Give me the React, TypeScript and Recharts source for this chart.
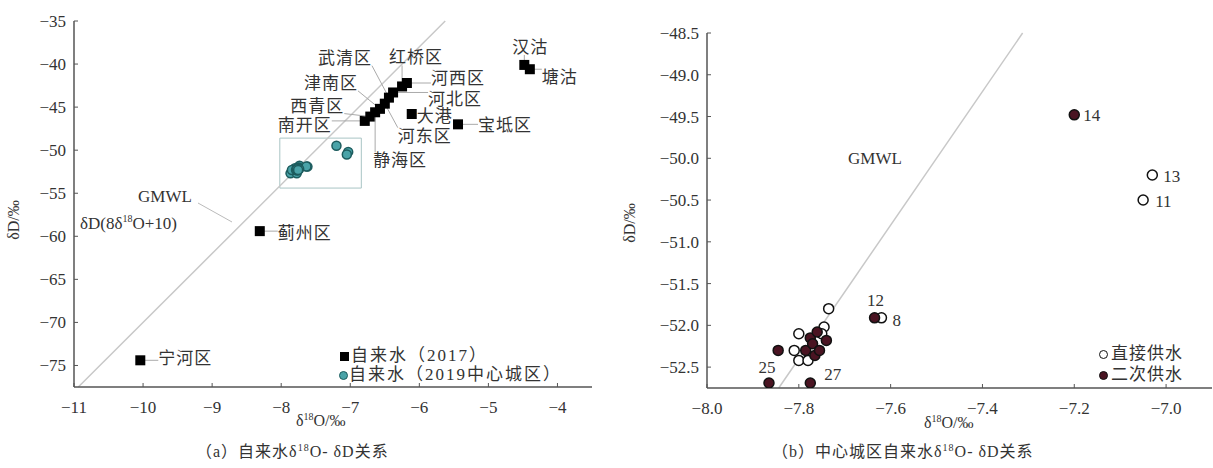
import { ScatterChart, Scatter, XAxis, YAxis, ReferenceLine, ReferenceArea } from 'recharts';

// (a) 自来水 2017, 各区
const tap2017 = [
  { name: '南开区', x: -6.79, y: -46.6 },
  { name: '西青区', x: -6.71, y: -46.1 },
  { name: '静海区', x: -6.64, y: -45.6 },
  { name: '津南区', x: -6.57, y: -45.2 },
  { name: '河东区', x: -6.5, y: -44.6 },
  { name: '武清区', x: -6.44, y: -43.9 },
  { name: '河北区', x: -6.38, y: -43.3 },
  { name: '红桥区', x: -6.25, y: -42.6 },
  { name: '河西区', x: -6.18, y: -42.2 },
  { name: '大港', x: -6.11, y: -45.8 },
  { name: '宝坻区', x: -5.44, y: -47.0 },
  { name: '汉沽', x: -4.48, y: -40.1 },
  { name: '塘沽', x: -4.4, y: -40.6 },
  { name: '蓟州区', x: -8.31, y: -59.4 },
  { name: '宁河区', x: -10.04, y: -74.4 },
];

// (b) 中心城区 2019
const directSupply = [
  { id: '13', x: -7.03, y: -50.2 },
  { id: '11', x: -7.05, y: -50.5 },
  { id: '8', x: -7.62, y: -51.91 },
  { id: '', x: -7.735, y: -51.8 },
  { id: '', x: -7.745, y: -52.02 },
  { id: '', x: -7.8, y: -52.1 },
  { id: '', x: -7.8, y: -52.42 },
  { id: '', x: -7.78, y: -52.42 },
  { id: '', x: -7.81, y: -52.3 },
  { id: '', x: -7.75, y: -52.1 },
];
const secondarySupply = [
  { id: '14', x: -7.2, y: -49.48 },
  { id: '12', x: -7.635, y: -51.91 },
  { id: '25', x: -7.865, y: -52.69 },
  { id: '27', x: -7.775, y: -52.69 },
  { id: '', x: -7.845, y: -52.3 },
  { id: '', x: -7.775, y: -52.15 },
  { id: '', x: -7.76, y: -52.08 },
  { id: '', x: -7.74, y: -52.18 },
  { id: '', x: -7.785, y: -52.3 },
  { id: '', x: -7.765, y: -52.36 },
  { id: '', x: -7.77, y: -52.22 },
  { id: '', x: -7.755, y: -52.3 },
];
const tap2019 = [...directSupply, ...secondarySupply];

const ticksAX = [-11, -10, -9, -8, -7, -6, -5, -4];
const ticksAY = [-75, -70, -65, -60, -55, -50, -45, -40, -35];
const ticksBX = [-8.0, -7.8, -7.6, -7.4, -7.2, -7.0];
const ticksBY = [-52.5, -52.0, -51.5, -51.0, -50.5, -50.0, -49.5, -49.0, -48.5];

const domainAX: [number, number] = [-11, -3.5];
const domainAY: [number, number] = [-77.5, -35];
const domainBX: [number, number] = [-8.0, -6.9];
const domainBY: [number, number] = [-52.75, -48.5];

// 全球大气降水线 δD = 8δ18O + 10
const gmwl = (d: number) => (d - 10) / 8;

// label placement (px offset from the point)
const labelPosA: Record<string, [number, number]> = {
  南开区: [-60, 4],
  西青区: [-53, -11],
  静海区: [25, 48],
  津南区: [-49, -26],
  河东区: [40, 32],
  武清区: [-44, -40],
  河北区: [62, 7],
  红桥区: [14, -29],
  河西区: [51, -5],
  大港: [23, 2],
  宝坻区: [47, 1],
  汉沽: [6, -18],
  塘沽: [30, 8],
  蓟州区: [45, 2],
  宁河区: [45, -2],
};
const labelPosB: Record<string, [number, number, string]> = {
  '14': [9, 6, 'start'],
  '13': [11, 7, 'start'],
  '11': [12, 7, 'start'],
  '12': [1, -12, 'middle'],
  '8': [11, 8, 'start'],
  '25': [-2, -10, 'middle'],
  '27': [14, -3, 'start'],
};

const SERIF = "'Liberation Serif', 'Noto Sans CJK SC', serif";
const AXIS = '#555';
const minus = (s: string) => s.replace('-', '−');

const LeftTick = (digits: number) => (props: any) => {
  const { x, y, payload } = props;
  return (
    <g>
      <line x1={x + 6} x2={x + 10} y1={y} y2={y} stroke={AXIS} />
      <text x={x - 2} y={y + 6} textAnchor="end" fontSize={17} fill="#333" fontFamily={SERIF}>
        {minus(payload.value.toFixed(digits))}
      </text>
    </g>
  );
};
const BottomTick = (digits: number) => (props: any) => {
  const { x, y, payload } = props;
  return (
    <g>
      <line x1={x} x2={x} y1={y - 6} y2={y - 10} stroke={AXIS} />
      <text x={x} y={y + 20} textAnchor="middle" fontSize={17} fill="#333" fontFamily={SERIF}>
        {minus(payload.value.toFixed(digits))}
      </text>
    </g>
  );
};

const SquareWithLabel = (props: any) => {
  const { cx, cy, payload } = props;
  const [dx, dy] = labelPosA[payload.name] || [0, 0];
  const lx = cx + dx;
  const ly = cy + dy;
  const hw = payload.name.length * 9;
  const hh = 8;
  const tx = Math.max(lx - hw, Math.min(cx, lx + hw));
  const ty = Math.max(ly - hh, Math.min(cy, ly + hh));
  const far = Math.hypot(tx - cx, ty - cy) > 6;
  return (
    <g>
      {far && <line x1={cx} y1={cy} x2={tx} y2={ty} stroke="#aaa" strokeWidth={1} />}
      <rect x={cx - 5} y={cy - 5} width={10} height={10} fill="#000" />
      <text x={lx} y={ly + 6} textAnchor="middle" fontSize={17} letterSpacing={1} fill="#333" fontFamily={SERIF}>
        {payload.name}
      </text>
    </g>
  );
};

const TealCircle = (props: any) => (
  <circle cx={props.cx} cy={props.cy} r={4.5} fill="#4aa3a8" stroke="#1d5c5e" strokeWidth={1.5} />
);

const SupplyCircle = (filled: boolean) => (props: any) => {
  const { cx, cy, payload } = props;
  const pos = labelPosB[payload.id];
  return (
    <g>
      <circle cx={cx} cy={cy} r={5} fill={filled ? '#4a1422' : '#fff'} stroke="#111" strokeWidth={1.5} />
      {pos && (
        <text x={cx + pos[0]} y={cy + pos[1]} textAnchor={pos[2] as any} fontSize={17} fill="#333" fontFamily={SERIF}>
          {payload.id}
        </text>
      )}
    </g>
  );
};

const txt = (style: React.CSSProperties): React.CSSProperties => ({
  position: 'absolute',
  fontFamily: SERIF,
  fontSize: 17,
  color: '#333',
  whiteSpace: 'nowrap',
  lineHeight: 1,
  ...style,
});

const d18O = (
  <>
    δ<sup style={{ fontSize: 10 }}>18</sup>O
  </>
);

export default function App() {
  return (
    <div style={{ position: 'absolute', left: 0, top: 0, width: 1213, height: 468, background: '#fff' }}>
      <div style={{ position: 'absolute', left: 0, top: 0 }}>
        <ScatterChart width={600} height={468} margin={{ top: 21, right: 8, bottom: 51, left: 24 }}>
          <XAxis
            type="number"
            dataKey="x"
            domain={domainAX}
            ticks={ticksAX}
            allowDataOverflow
            height={30}
            tickSize={0}
            tickMargin={6}
            axisLine={{ stroke: AXIS, strokeWidth: 1.5 }}
            tickLine={false}
            tick={BottomTick(0)}
          />
          <YAxis
            type="number"
            dataKey="y"
            domain={domainAY}
            ticks={ticksAY}
            allowDataOverflow
            width={50}
            tickSize={0}
            tickMargin={6}
            axisLine={{ stroke: AXIS, strokeWidth: 1.5 }}
            tickLine={false}
            tick={LeftTick(0)}
          />
          <ReferenceLine
            segment={[
              { x: gmwl(domainAY[0]), y: domainAY[0] },
              { x: gmwl(domainAY[1]), y: domainAY[1] },
            ]}
            stroke="#c8c8c8"
            strokeWidth={1.5}
          />
          <ReferenceArea x1={-8.02} x2={-6.84} y1={-54.4} y2={-48.6} fill="none" stroke="#a8c4c4" strokeWidth={1} />
          <Scatter data={tap2019} shape={TealCircle} isAnimationActive={false} />
          <Scatter data={tap2017} shape={SquareWithLabel} isAnimationActive={false} />
        </ScatterChart>
      </div>

      <div style={{ position: 'absolute', left: 620, top: 0 }}>
        <ScatterChart width={593} height={468} margin={{ top: 33, right: 1, bottom: 50, left: 32 }}>
          <XAxis
            type="number"
            dataKey="x"
            domain={domainBX}
            ticks={ticksBX}
            allowDataOverflow
            height={30}
            tickSize={0}
            tickMargin={6}
            axisLine={{ stroke: AXIS, strokeWidth: 1.5 }}
            tickLine={false}
            tick={BottomTick(1)}
          />
          <YAxis
            type="number"
            dataKey="y"
            domain={domainBY}
            ticks={ticksBY}
            allowDataOverflow
            width={55}
            tickSize={0}
            tickMargin={6}
            axisLine={{ stroke: AXIS, strokeWidth: 1.5 }}
            tickLine={false}
            tick={LeftTick(1)}
          />
          <ReferenceLine
            segment={[
              { x: gmwl(domainBY[0]), y: domainBY[0] },
              { x: gmwl(domainBY[1]), y: domainBY[1] },
            ]}
            stroke="#c8c8c8"
            strokeWidth={1.5}
          />
          <Scatter data={directSupply} shape={SupplyCircle(false)} isAnimationActive={false} />
          <Scatter data={secondarySupply} shape={SupplyCircle(true)} isAnimationActive={false} />
        </ScatterChart>
      </div>

      {/* annotations */}
      <svg width={1213} height={468} style={{ position: 'absolute', left: 0, top: 0, pointerEvents: 'none' }}>
        <line x1={198} y1={203} x2={232} y2={222} stroke="#bbb" strokeWidth={1} />
      </svg>
      <div style={txt({ left: 138, top: 188 })}>GMWL</div>
      <div style={txt({ left: 80, top: 214 })}>δD(8{d18O}+10)</div>
      <div style={txt({ left: 848, top: 150 })}>GMWL</div>

      {/* legend (a) */}
      <div style={txt({ left: 340, top: 347, letterSpacing: 2 })}>
        <span style={{ display: 'inline-block', width: 9, height: 9, background: '#000', marginRight: 2 }} />
        自来水（2017）
      </div>
      <div style={txt({ left: 339, top: 366, letterSpacing: 2 })}>
        <span
          style={{
            display: 'inline-block',
            width: 7,
            height: 7,
            borderRadius: '50%',
            background: '#4aa3a8',
            border: '1.5px solid #1d5c5e',
            marginRight: 1,
          }}
        />
        自来水（2019中心城区）
      </div>

      {/* legend (b) */}
      <div style={txt({ left: 1099, top: 345, letterSpacing: 1 })}>
        <span
          style={{
            display: 'inline-block',
            width: 7,
            height: 7,
            borderRadius: '50%',
            background: '#fff',
            border: '1.5px solid #111',
            marginRight: 3,
          }}
        />
        直接供水
      </div>
      <div style={txt({ left: 1099, top: 366, letterSpacing: 1 })}>
        <span
          style={{
            display: 'inline-block',
            width: 7,
            height: 7,
            borderRadius: '50%',
            background: '#4a1422',
            border: '1.5px solid #111',
            marginRight: 3,
          }}
        />
        二次供水
      </div>

      {/* axis titles */}
      <div style={txt({ left: -6, top: 212, transform: 'rotate(-90deg)', fontSize: 16 })}>δD/‰</div>
      <div style={txt({ left: 610, top: 215, transform: 'rotate(-90deg)', fontSize: 16 })}>δD/‰</div>
      <div style={txt({ left: 296, top: 412, fontSize: 16 })}>{d18O}/‰</div>
      <div style={txt({ left: 924, top: 414, fontSize: 16 })}>{d18O}/‰</div>

      {/* captions */}
      <div style={txt({ left: 196, top: 443, fontSize: 16, letterSpacing: 1 })}>（a）自来水{d18O}- δD关系</div>
      <div style={txt({ left: 772, top: 443, fontSize: 16, letterSpacing: 1 })}>（b）中心城区自来水{d18O}- δD关系</div>
    </div>
  );
}
